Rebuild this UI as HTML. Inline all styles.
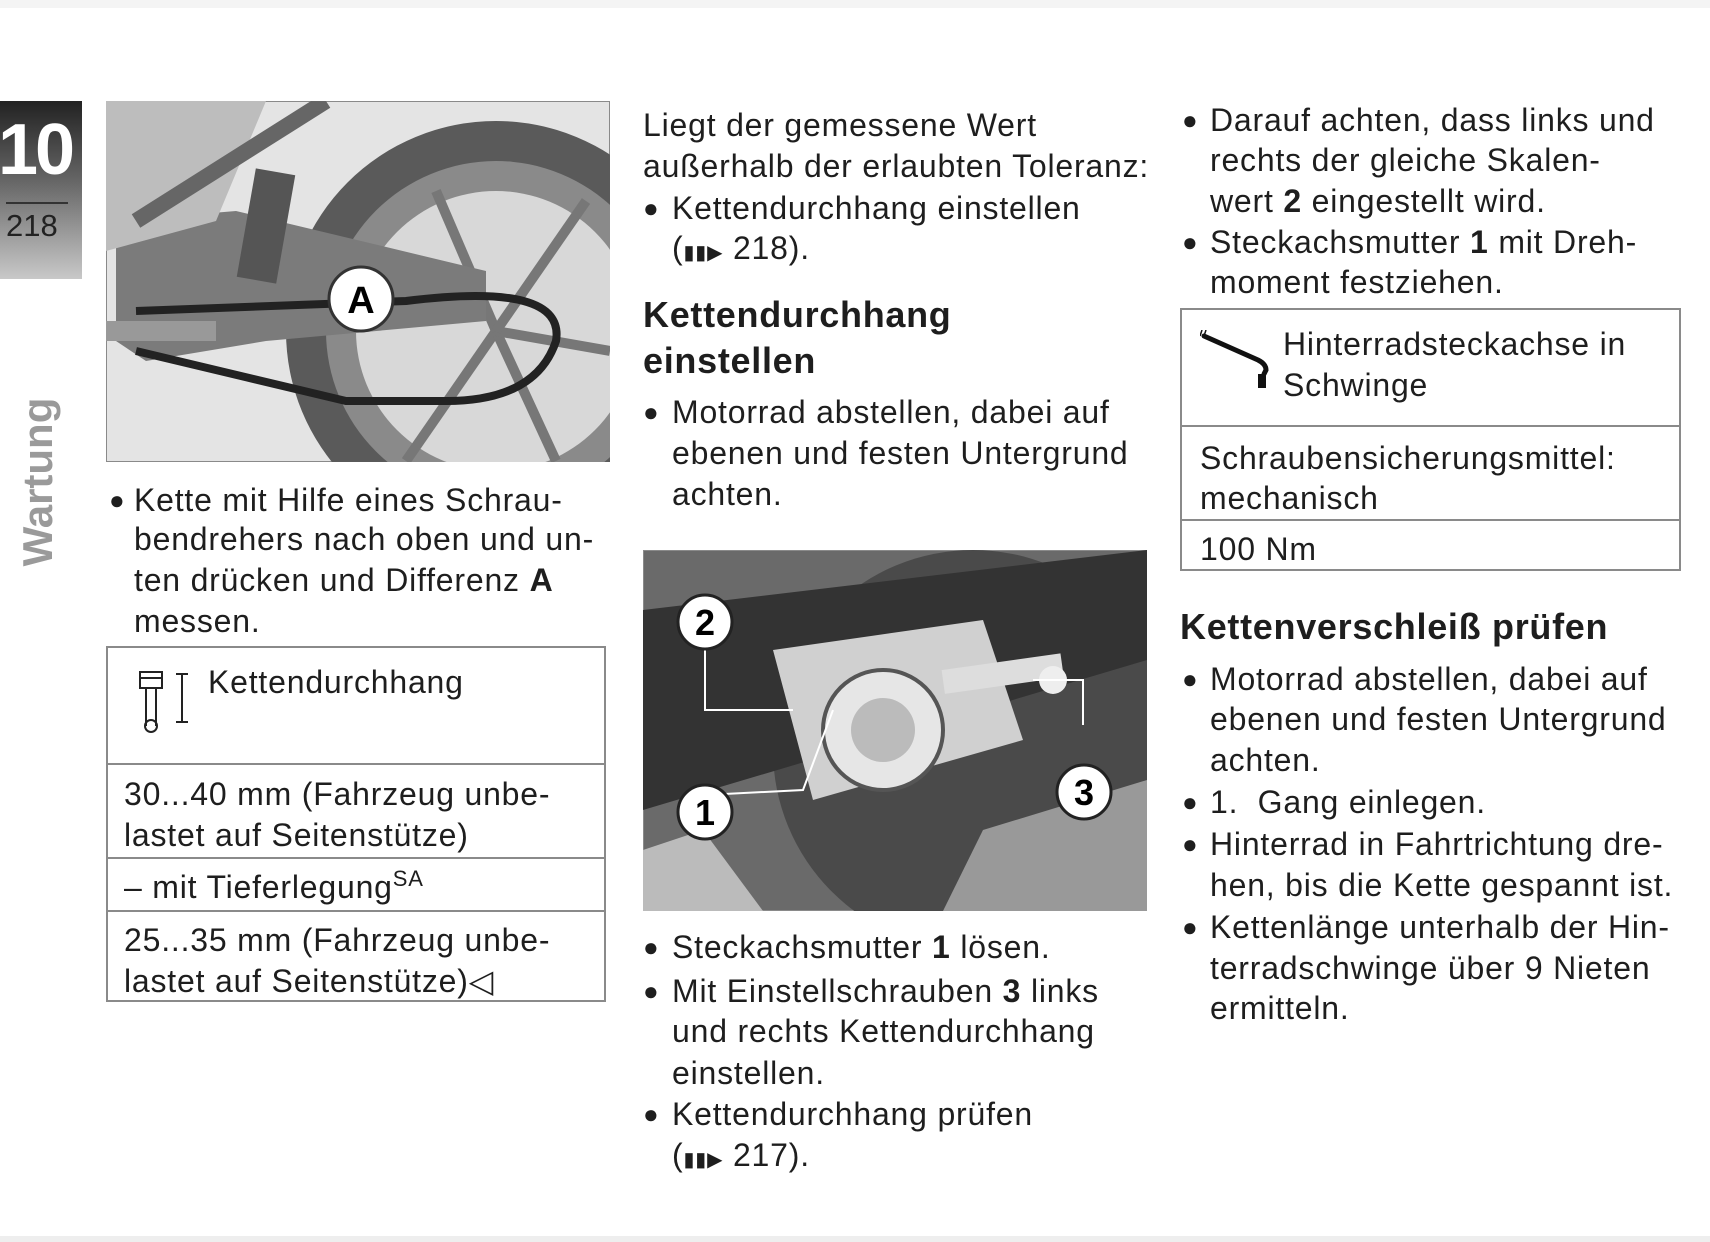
<!DOCTYPE html>
<html><head><meta charset="utf-8"><style>
*{margin:0;padding:0;box-sizing:border-box}
body{width:1710px;height:1242px;background:#fff;position:relative;overflow:hidden;font-family:"Liberation Sans",sans-serif;color:#1e1e1e}
.l{position:absolute;height:40px;line-height:40px;font-size:32px;letter-spacing:0.8px;white-space:nowrap;margin-top:4px}
.b{position:absolute;font-size:26px;line-height:40px;height:40px;margin-top:4px}
.h{position:absolute;font-size:36px;font-weight:bold;line-height:44px;letter-spacing:0.7px;white-space:nowrap;margin-top:3px}
.box{position:absolute;border:2px solid #8a8a8a}
.rl{position:absolute;height:2px;background:#8a8a8a}
</style></head><body>
<div style="position:absolute;left:0;top:0;width:1710px;height:8px;background:#f4f4f4"></div>
<div style="position:absolute;left:0;top:1236px;width:1710px;height:6px;background:#eee"></div>
<div style="position:absolute;left:0;top:101px;width:82px;height:178px;background:linear-gradient(#222 0%,#666 45%,#c8c8c8 100%)"></div>
<div style="position:absolute;left:-2px;top:112px;width:86px;font-size:72px;font-weight:bold;color:#fff;line-height:76px;letter-spacing:-3px">10</div>
<div style="position:absolute;left:6px;top:202px;width:62px;height:2px;background:#333"></div>
<div style="position:absolute;left:6px;top:206px;font-size:31px;color:#222;line-height:40px">218</div>
<div style="position:absolute;left:38px;top:482px;transform:translate(-50%,-50%) rotate(-90deg);font-size:42px;font-weight:bold;color:#9a9a9a;white-space:nowrap">Wartung</div>

<svg style="position:absolute;left:106px;top:101px" width="504" height="361" viewBox="0 0 504 361">
<rect width="504" height="361" fill="#e4e4e4" stroke="#8a8a8a" stroke-width="2"/>
<circle cx="390" cy="230" r="210" fill="#5a5a5a"/><circle cx="390" cy="230" r="170" fill="#8a8a8a"/>
<circle cx="390" cy="230" r="140" fill="#d8d8d8"/>
<g stroke="#777" stroke-width="10"><line x1="390" y1="230" x2="300" y2="360"/><line x1="390" y1="230" x2="450" y2="360"/><line x1="390" y1="230" x2="504" y2="250"/><line x1="390" y1="230" x2="330" y2="90"/><line x1="390" y1="230" x2="480" y2="100"/></g>
<polygon points="10,120 130,110 380,170 380,220 160,240 40,260 10,240" fill="#7b7b7b"/>
<polygon points="0,0 160,0 110,120 0,150" fill="#bdbdbd"/>
<line x1="30" y1="120" x2="220" y2="0" stroke="#666" stroke-width="16"/>
<rect x="140" y="70" width="40" height="110" fill="#555" transform="rotate(10 160 125)"/>
<path d="M30 210 L300 200 Q460 180 450 240 Q430 300 340 300 L240 300 L30 250" fill="none" stroke="#222" stroke-width="8"/>
<circle cx="255" cy="198" r="32" fill="#fff" stroke="#333" stroke-width="3"/>
<text x="255" y="212" font-size="38" font-weight="bold" text-anchor="middle" font-family="Liberation Sans">A</text>
<rect x="0" y="220" width="110" height="20" fill="#999"/>
</svg>

<div class="b" style="left:109px;top:476px">●</div><div class="l" style="left:134px;top:476px">Kette mit Hilfe eines Schrau-</div>
<div class="l" style="left:134px;top:515px">bendrehers nach oben und un-</div>
<div class="l" style="left:134px;top:556px">ten drücken und Differenz <b>A</b></div>
<div class="l" style="left:134px;top:597px">messen.</div>

<div class="box" style="left:106px;top:646px;width:500px;height:356px"></div>
<div class="rl" style="left:106px;top:763px;width:500px"></div>
<div class="rl" style="left:106px;top:857px;width:500px"></div>
<div class="rl" style="left:106px;top:910px;width:500px"></div>
<svg style="position:absolute;left:138px;top:668px" width="52" height="66"><rect x="2" y="4" width="22" height="16" fill="none" stroke="#222" stroke-width="2"/><line x1="2" y1="10" x2="24" y2="10" stroke="#222" stroke-width="2"/><line x1="8" y1="20" x2="8" y2="58" stroke="#222" stroke-width="2"/><line x1="18" y1="20" x2="18" y2="58" stroke="#222" stroke-width="2"/><circle cx="13" cy="58" r="6" fill="none" stroke="#222" stroke-width="2"/><line x1="44" y1="6" x2="44" y2="54" stroke="#222" stroke-width="2"/><line x1="38" y1="6" x2="50" y2="6" stroke="#222" stroke-width="2"/><line x1="38" y1="54" x2="50" y2="54" stroke="#222" stroke-width="2"/></svg>
<div class="l" style="left:208px;top:658px">Kettendurchhang</div>
<div class="l" style="left:124px;top:770px">30...40 mm (Fahrzeug unbe-</div>
<div class="l" style="left:124px;top:811px">lastet auf Seitenstütze)</div>
<div class="l" style="left:124px;top:863px">– mit Tieferlegung<sup style="font-size:22px;vertical-align:12px;line-height:0">SA</sup></div>
<div class="l" style="left:124px;top:916px">25...35 mm (Fahrzeug unbe-</div>
<div class="l" style="left:124px;top:957px">lastet auf Seitenstütze)◁</div>

<div class="l" style="left:643px;top:101px">Liegt der gemessene Wert</div>
<div class="l" style="left:643px;top:142px">außerhalb der erlaubten Toleranz:</div>
<div class="b" style="left:643px;top:184px">●</div><div class="l" style="left:672px;top:184px">Kettendurchhang einstellen</div>
<div class="l" style="left:672px;top:224px">(<span style="font-size:20px">▮▮▶</span> 218).</div>
<div class="h" style="left:643px;top:290px">Kettendurchhang</div>
<div class="h" style="left:643px;top:336px">einstellen</div>
<div class="b" style="left:643px;top:388px">●</div><div class="l" style="left:672px;top:388px">Motorrad abstellen, dabei auf</div>
<div class="l" style="left:672px;top:429px">ebenen und festen Untergrund</div>
<div class="l" style="left:672px;top:470px">achten.</div>

<svg style="position:absolute;left:643px;top:550px" width="504" height="361" viewBox="0 0 504 361">
<rect width="504" height="361" fill="#6a6a6a" stroke="#8a8a8a" stroke-width="2"/>
<circle cx="330" cy="200" r="200" fill="#4a4a4a"/>
<polygon points="0,60 504,0 504,110 0,260" fill="#333"/>
<polygon points="130,100 340,70 380,190 170,250" fill="#d0d0d0"/>
<circle cx="240" cy="180" r="60" fill="#e6e6e6" stroke="#555" stroke-width="4"/>
<circle cx="240" cy="180" r="32" fill="#bbb"/>
<rect x="300" y="120" width="120" height="24" fill="#ddd" transform="rotate(-8 300 130)"/>
<circle cx="410" cy="130" r="14" fill="#eee"/>
<polygon points="0,300 60,280 120,361 0,361" fill="#bbb"/>
<polygon points="340,280 504,230 504,361 300,361" fill="#999"/>
<g stroke="#fff" stroke-width="2" fill="none"><path d="M62 80 L62 160 L150 160"/><path d="M62 245 L160 240 L190 160"/><path d="M440 175 L440 130 L390 130"/></g>
<g font-family="Liberation Sans" font-size="36" font-weight="bold" text-anchor="middle"><circle cx="62" cy="72" r="27" fill="#fff" stroke="#222" stroke-width="3"/><text x="62" y="85">2</text>
<circle cx="62" cy="262" r="27" fill="#fff" stroke="#222" stroke-width="3"/><text x="62" y="275">1</text>
<circle cx="441" cy="242" r="27" fill="#fff" stroke="#222" stroke-width="3"/><text x="441" y="255">3</text></g>
</svg>

<div class="b" style="left:643px;top:923px">●</div><div class="l" style="left:672px;top:923px">Steckachsmutter <b>1</b> lösen.</div>
<div class="b" style="left:643px;top:967px">●</div><div class="l" style="left:672px;top:967px">Mit Einstellschrauben <b>3</b> links</div>
<div class="l" style="left:672px;top:1007px">und rechts Kettendurchhang</div>
<div class="l" style="left:672px;top:1049px">einstellen.</div>
<div class="b" style="left:643px;top:1090px">●</div><div class="l" style="left:672px;top:1090px">Kettendurchhang prüfen</div>
<div class="l" style="left:672px;top:1131px">(<span style="font-size:20px">▮▮▶</span> 217).</div>

<div class="b" style="left:1182px;top:96px">●</div><div class="l" style="left:1210px;top:96px">Darauf achten, dass links und</div>
<div class="l" style="left:1210px;top:136px">rechts der gleiche Skalen-</div>
<div class="l" style="left:1210px;top:177px">wert <b>2</b> eingestellt wird.</div>
<div class="b" style="left:1182px;top:218px">●</div><div class="l" style="left:1210px;top:218px">Steckachsmutter <b>1</b> mit Dreh-</div>
<div class="l" style="left:1210px;top:258px">moment festziehen.</div>

<div class="box" style="left:1180px;top:308px;width:501px;height:263px"></div>
<div class="rl" style="left:1180px;top:425px;width:501px"></div>
<div class="rl" style="left:1180px;top:519px;width:501px"></div>
<svg style="position:absolute;left:1200px;top:330px" width="80" height="65"><path d="M4 6 L58 30 Q66 34 66 40 L64 44" fill="none" stroke="#111" stroke-width="5" stroke-linecap="round"/><rect x="58" y="44" width="8" height="14" fill="#111"/><g stroke="#111" stroke-width="1.5"><line x1="2" y1="0" x2="0" y2="6"/><line x1="6" y1="0" x2="4" y2="6"/></g></svg>
<div class="l" style="left:1283px;top:320px">Hinterradsteckachse in</div>
<div class="l" style="left:1283px;top:361px">Schwinge</div>
<div class="l" style="left:1200px;top:434px">Schraubensicherungsmittel:</div>
<div class="l" style="left:1200px;top:474px">mechanisch</div>
<div class="l" style="left:1200px;top:525px">100 Nm</div>

<div class="h" style="left:1180px;top:602px">Kettenverschleiß prüfen</div>
<div class="b" style="left:1182px;top:655px">●</div><div class="l" style="left:1210px;top:655px">Motorrad abstellen, dabei auf</div>
<div class="l" style="left:1210px;top:695px">ebenen und festen Untergrund</div>
<div class="l" style="left:1210px;top:736px">achten.</div>
<div class="b" style="left:1182px;top:778px">●</div><div class="l" style="left:1210px;top:778px">1.&nbsp; Gang einlegen.</div>
<div class="b" style="left:1182px;top:820px">●</div><div class="l" style="left:1210px;top:820px">Hinterrad in Fahrtrichtung dre-</div>
<div class="l" style="left:1210px;top:861px">hen, bis die Kette gespannt ist.</div>
<div class="b" style="left:1182px;top:903px">●</div><div class="l" style="left:1210px;top:903px">Kettenlänge unterhalb der Hin-</div>
<div class="l" style="left:1210px;top:944px">terradschwinge über 9 Nieten</div>
<div class="l" style="left:1210px;top:984px">ermitteln.</div>
</body></html>
